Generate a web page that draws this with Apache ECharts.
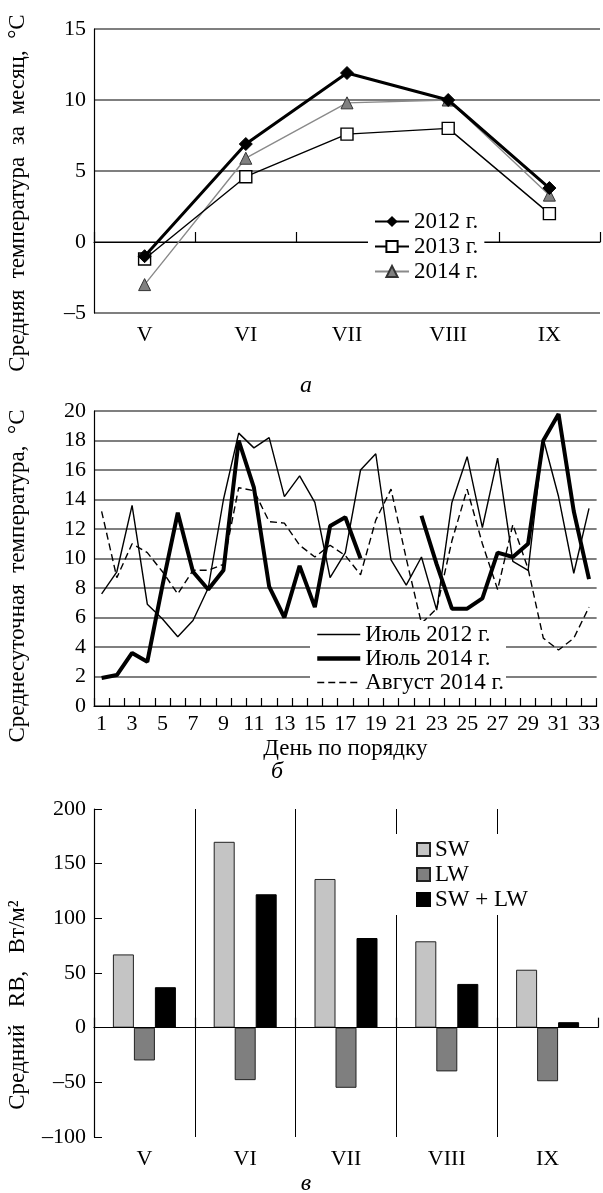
<!DOCTYPE html>
<html>
<head>
<meta charset="utf-8">
<script src="https://cdn.jsdelivr.net/npm/echarts@6.0.0/dist/echarts.min.js"></script>
<style>
  html, body { margin: 0; padding: 0; background: #fff; }
  #chart { width: 603px; height: 1193px; }
</style>
</head>
<body>
<div id="chart"></div>
<script>
// panel a: monthly mean temperature
const months = ["V", "VI", "VII", "VIII", "IX"];
const t2012 = [-1.0, 6.9, 11.9, 10.0, 3.8];
const t2013 = [-1.2, 4.6, 7.6, 8.0, 2.0];
const t2014 = [-3.0, 5.9, 9.8, 10.0, 3.3];

// panel b: daily mean temperature
const days = ["1", "2", "3", "4", "5", "6", "7", "8", "9", "10", "11", "12", "13", "14", "15", "16", "17",
  "18", "19", "20", "21", "22", "23", "24", "25", "26", "27", "28", "29", "30", "31", "32", "33"];
const july2012 = [7.6, 9.1, 13.6, 6.9, 5.9, 4.7, 5.8, 8.0, 14.0, 18.5, 17.5, 18.2, 14.2, 15.6, 13.8, 8.7, 10.4,
  16.0, 17.1, 9.9, 8.2, 10.1, 6.5, 13.8, 16.9, 12.1, 16.8, 9.8, 9.2, 18.1, 14.2, 9.0, 13.4];
const july2014 = [1.9, 2.1, 3.6, 3.0, 8.2, 13.1, 9.1, 7.9, 9.2, 18.0, 14.8, 8.1, 6.0, 9.5, 6.7, 12.2, 12.8,
  10.0, null, null, null, 12.9, 9.6, 6.6, 6.6, 7.3, 10.4, 10.1, 11.0, 18.0, 19.8, 13.2, 8.6];
const aug2014 = [13.2, 8.7, 11.0, 10.4, 9.1, 7.6, 9.2, 9.2, 9.6, 14.8, 14.6, 12.5, 12.4, 10.9, 10.1, 10.9, 10.2,
  8.9, 12.6, 14.7, 10.0, 5.6, 6.6, 11.2, 14.7, 11.0, 7.9, 12.3, 9.3, 4.6, 3.8, 4.6, 6.7];

// panel c: mean radiation balance
const sw = [67, 170, 136, 79, 53];
const lw = [-30, -48, -55, -40, -49];
const swlw = [37, 122, 82, 40, 5];

const serif = "Liberation Serif";
const fs = 22;   // tick labels
const fn = 23;   // names, legends
const dash = v => String(v).replace("-", "–");

const chart = echarts.init(document.getElementById("chart"));

const catAxis = (grid, data, extra) => Object.assign({
  type: "category",
  gridIndex: grid,
  data: data,
  boundaryGap: true,
  axisLine: { lineStyle: { color: "#000", width: 1.2 } },
  axisTick: { show: true, inside: true, length: 10, lineStyle: { color: "#000", width: 1.2 } },
  axisLabel: { color: "#000", fontFamily: serif, fontSize: fs, margin: 11 },
  splitLine: { show: false },
}, extra);

const valAxis = (grid, min, max, interval, extra) => Object.assign({
  type: "value",
  gridIndex: grid,
  min: min,
  max: max,
  interval: interval,
  axisLine: { show: true, lineStyle: { color: "#000", width: 1.2 } },
  axisTick: { show: false },
  axisLabel: { color: "#000", fontFamily: serif, fontSize: fs, margin: 8, formatter: dash },
  splitLine: { show: true, lineStyle: { color: "#555", width: 1.5 } },
}, extra);

const legendText = { color: "#000", fontFamily: serif, fontSize: fn };

chart.setOption({
  animation: false,
  backgroundColor: "#fff",
  textStyle: { fontFamily: serif },
  grid: [
    { left: 94, right: 3, top: 29, height: 284 },
    { left: 94, right: 6, top: 411, height: 295 },
    { left: 94, right: 5, top: 809, height: 328 },
  ],
  xAxis: [
    catAxis(0, months),
    catAxis(1, days, {
      axisTick: { show: true, inside: true, length: 8, interval: 0, lineStyle: { color: "#000", width: 1.2 } },
      axisLabel: { color: "#000", fontFamily: serif, fontSize: fs, margin: 7, interval: 1 },
      name: "День по порядку",
      nameLocation: "middle",
      nameGap: 31,
      nameTextStyle: { color: "#000", fontFamily: serif, fontSize: fn },
    }),
    catAxis(2, months, {
      splitLine: { show: true, showMaxLine: false, lineStyle: { color: "#000", width: 1 } },
    }),
  ],
  yAxis: [
    valAxis(0, -5, 15, 5),
    valAxis(1, 0, 20, 2),
    valAxis(2, -100, 200, 50, {
      splitLine: { show: false },
      axisTick: { show: true, inside: true, length: 8, lineStyle: { color: "#000" } },
    }),
  ],
  legend: [
    {
      data: ["2012 г.", "2013 г.", "2014 г."],
      orient: "vertical",
      left: 368, top: 208,
      itemWidth: 34, itemHeight: 14, itemGap: 2, itemTextGap: 9,
      padding: [2, 6, 2, 6],
      backgroundColor: "#fff",
      textStyle: legendText,
    },
    {
      data: [
        { name: "Июль 2012 г.", lineStyle: { width: 1.4 } },
        { name: "Июль 2014 г.", lineStyle: { width: 4.5 } },
        { name: "Август 2014 г.", lineStyle: { width: 1.4, type: [7, 4] } },
      ],
      orient: "vertical",
      left: 310, top: 621,
      itemWidth: 43, itemHeight: 14, itemGap: 1, itemTextGap: 10,
      itemStyle: { opacity: 0 },
      padding: [2, 2, 2, 5],
      backgroundColor: "#fff",
      textStyle: legendText,
    },
    {
      data: ["SW", "LW", "SW + LW"],
      orient: "vertical",
      left: 396, top: 834,
      icon: "rect",
      itemWidth: 13, itemHeight: 13, itemGap: 2, itemTextGap: 9,
      padding: [4, 6, 4, 20],
      backgroundColor: "#fff",
      textStyle: legendText,
    },
  ],
  series: [
    {
      name: "2012 г.", type: "line", xAxisIndex: 0, yAxisIndex: 0, data: t2012,
      symbol: "diamond", symbolSize: 13, z: 5,
      lineStyle: { color: "#000", width: 3 },
      itemStyle: { color: "#000", borderColor: "#000" },
    },
    {
      name: "2013 г.", type: "line", xAxisIndex: 0, yAxisIndex: 0, data: t2013,
      symbol: "rect", symbolSize: 12, z: 4,
      lineStyle: { color: "#000", width: 1.4 },
      itemStyle: { color: "#fff", borderColor: "#000", borderWidth: 1.4 },
    },
    {
      name: "2014 г.", type: "line", xAxisIndex: 0, yAxisIndex: 0, data: t2014,
      symbol: "triangle", symbolSize: 12, z: 3,
      lineStyle: { color: "#8a8a8a", width: 1.4 },
      itemStyle: { color: "#808080", borderColor: "#333", borderWidth: 1 },
    },
    {
      name: "Июль 2012 г.", type: "line", xAxisIndex: 1, yAxisIndex: 1, data: july2012,
      symbol: "none",
      lineStyle: { color: "#000", width: 1.4 },
      itemStyle: { color: "#000" },
    },
    {
      name: "Июль 2014 г.", type: "line", xAxisIndex: 1, yAxisIndex: 1, data: july2014,
      symbol: "none", connectNulls: false,
      lineStyle: { color: "#000", width: 4 },
      itemStyle: { color: "#000" },
    },
    {
      name: "Август 2014 г.", type: "line", xAxisIndex: 1, yAxisIndex: 1, data: aug2014,
      symbol: "none",
      lineStyle: { color: "#000", width: 1.4, type: [7, 4] },
      itemStyle: { color: "#000" },
    },
    {
      name: "SW", type: "bar", xAxisIndex: 2, yAxisIndex: 2, data: sw,
      barWidth: 21, barGap: "0%",
      itemStyle: { color: "#c4c4c4", borderColor: "#222", borderWidth: 1 },
      markLine: {
        silent: true, symbol: "none", label: { show: false },
        lineStyle: { color: "#000", width: 1.2, type: "solid" },
        data: [{ yAxis: 0 }],
      },
    },
    {
      name: "LW", type: "bar", xAxisIndex: 2, yAxisIndex: 2, data: lw,
      barWidth: 21, barGap: "0%",
      itemStyle: { color: "#7f7f7f", borderColor: "#222", borderWidth: 1 },
    },
    {
      name: "SW + LW", type: "bar", xAxisIndex: 2, yAxisIndex: 2, data: swlw,
      barWidth: 21, barGap: "0%",
      itemStyle: { color: "#000", borderColor: "#000", borderWidth: 1 },
    },
  ],
  graphic: [
    {
      type: "text", x: 18, y: 193, rotation: Math.PI / 2,
      style: { text: "Средняя  температура  за  месяц,  °C", font: fn + "px " + serif, fill: "#000", align: "center", verticalAlign: "middle" },
    },
    {
      type: "text", x: 18, y: 576, rotation: Math.PI / 2,
      style: { text: "Среднесуточная  температура,  °C", font: fn + "px " + serif, fill: "#000", align: "center", verticalAlign: "middle" },
    },
    {
      type: "text", x: 18, y: 1005, rotation: Math.PI / 2,
      style: { text: "Средний   RB,   Вт/м²", font: fn + "px " + serif, fill: "#000", align: "center", verticalAlign: "middle" },
    },
    {
      type: "text", x: 306, y: 386,
      style: { text: "а", font: "italic 24px " + serif, fill: "#000", align: "center", verticalAlign: "middle" },
    },
    {
      type: "text", x: 277, y: 772,
      style: { text: "б", font: "italic 24px " + serif, fill: "#000", align: "center", verticalAlign: "middle" },
    },
    {
      type: "text", x: 306, y: 1184,
      style: { text: "в", font: "italic 24px " + serif, fill: "#000", align: "center", verticalAlign: "middle" },
    },
  ],
});
</script>
</body>
</html>
